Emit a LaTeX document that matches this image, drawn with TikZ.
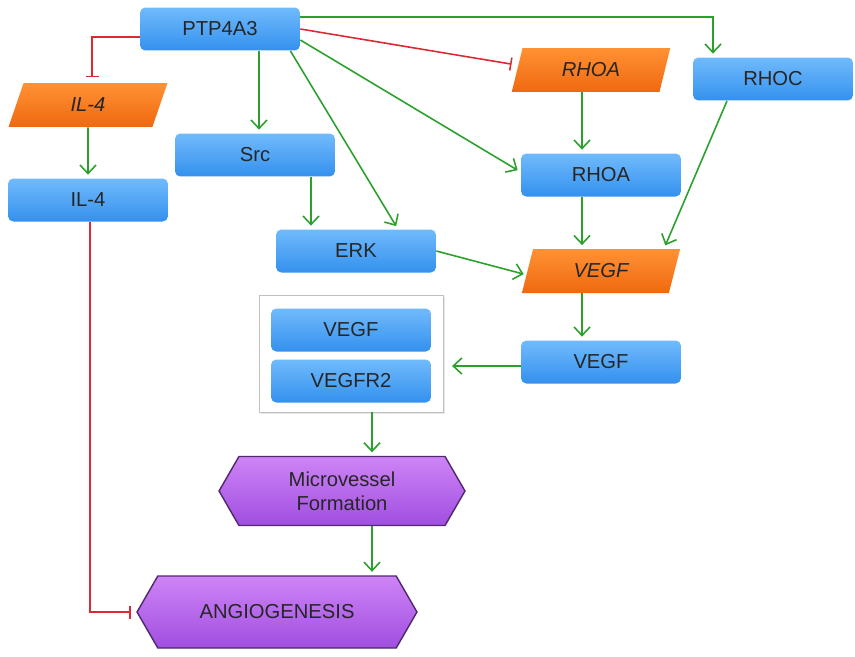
\documentclass[tikz,border=0pt]{standalone}
\usepackage{fontspec}
\setmainfont{Liberation Sans}
\usepackage{tikz}
\usetikzlibrary{positioning, arrows.meta, shapes.geometric, shapes.symbols, fit, shadows}
\usepackage{xcolor}
\definecolor{bluetop}{RGB}{112, 186, 252}
\definecolor{bluebot}{RGB}{52, 145, 238}
\definecolor{orangetop}{RGB}{255, 146, 52}
\definecolor{orangebot}{RGB}{240, 104, 16}
\definecolor{purptop}{RGB}{206, 132, 246}
\definecolor{purpbot}{RGB}{160, 78, 224}
\definecolor{purpline}{RGB}{80, 40, 110}
\definecolor{actgreen}{RGB}{44, 160, 44}
\definecolor{inhred}{RGB}{222, 40, 52}
\definecolor{panelgray}{RGB}{192, 192, 192}

\begin{document}
\begin{tikzpicture}[x=0.02cm, y=-0.02cm,
      font=\fontsize{11.5}{13.5}\selectfont,
      block/.style={rectangle, top color=bluetop, bottom color=bluebot, draw=none, rounded corners=3pt, minimum width=3.2cm, minimum height=0.86cm, text=black!85},
      blockm/.style={trapezium, trapezium left angle=78, trapezium right angle=102, trapezium stretches=true, top color=orangetop, bottom color=orangebot, draw=none, minimum width=3.18cm, minimum height=0.88cm, font=\fontsize{11.5}{13.5}\selectfont\itshape, text=black!85},
      pheno/.style={signal, signal to=west and east, signal pointer angle=120, top color=purptop, bottom color=purpbot, draw=purpline, thick, text=black!85, align=center},
      panel/.style={rectangle, draw=panelgray, fill=white, drop shadow={opacity=0.2, shadow xshift=1pt, shadow yshift=-1pt}, inner sep=0pt},
      act/.style={draw=actgreen, line width=0.9pt, -{Straight Barb[length=1.7mm, width=3.2mm]}, shorten >=2pt},
      inhib/.style={draw=inhred, line width=0.9pt, -{Bar[width=2.6mm]}, shorten >=3pt}
   ]
      \useasboundingbox (0,0) rectangle (855,656);

      % Top row
      \node (ptp)  [block] at (220,29)  {PTP4A3};
      \node (il4m) [blockm] at (88,105) {IL-4};
      \node (rhoam)[blockm] at (591,70) {RHOA};
      \node (rhoc) [block] at (773,79)  {RHOC};

      % Middle part
      \node (il4)  [block] at (88,200)  {IL-4};
      \node (src)  [block] at (255,155) {Src};
      \node (rhoa) [block] at (601,175) {RHOA};
      \node (erk)  [block] at (356,251) {ERK};
      \node (vegfm)[blockm] at (601,271) {VEGF};
      \node (vegf) [block] at (601,362) {VEGF};

      % Complex (drawn below its members)
      \coordinate (cbl) at (259,412);
      \coordinate (ctr) at (443,295);
      \node (cplx) [panel, fit=(cbl)(ctr)] {};
      \node (vegfin) [block] at (351,330) {VEGF};
      \node (vegfr)  [block] at (351,381) {VEGFR2};

      % Outcomes
      \node (micro) [pheno, minimum width=4.92cm, minimum height=1.38cm] at (342,491) {Microvessel\\Formation};
      \node (angio) [pheno, minimum width=5.6cm, minimum height=1.44cm] at (277,612) {ANGIOGENESIS};

      % From PTP4A3
      \draw[inhib] ([yshift=-0.16cm]ptp.west) -| ([xshift=0.08cm]il4m.north);
      \draw[act]   ([yshift=0.24cm]ptp.east) -| ([xshift=-1.2cm]rhoc.north);
      \draw[inhib] (ptp.east) -- ([yshift=0.1cm]rhoam.west);
      \draw[act]   ([yshift=-0.22cm]ptp.east) -- ([yshift=0.06cm]rhoa.west);
      \draw[act]   ([xshift=-0.2cm]ptp.south east) -- ([xshift=0.84cm]erk.north);
      \draw[act]   ([xshift=0.78cm]ptp.south) -- ([xshift=0.78cm]ptp.south |- src.north);

      % IL-4 branch
      \draw[act]   (il4m.south) -- (il4.north);
      \draw[inhib] ([xshift=0.04cm]il4.south) |- (angio.west);

      % Src / ERK branch
      \draw[act]   ([xshift=1.12cm]src.south) -- ([xshift=1.12cm]src.south |- erk.north);
      \draw[act]   (erk.east) -- ([yshift=-0.08cm]vegfm.west);

      % RHOA / RHOC branch
      \draw[act]   ([xshift=-0.38cm]rhoa.north |- rhoam.south) -- ([xshift=-0.38cm]rhoa.north);
      \draw[act]   ([xshift=-0.38cm]rhoa.south) -- ([xshift=-0.38cm]rhoa.south |- vegfm.north);
      \draw[act]   ([xshift=-0.92cm]rhoc.south) -- ([xshift=1.26cm]vegfm.north);

      % VEGF to receptor and outcomes
      \draw[act]   ([xshift=-0.38cm]vegf.north |- vegfm.south) -- ([xshift=-0.38cm]vegf.north);
      \draw[act,shorten >=5pt] ([yshift=-0.08cm]vegf.west) -- ([yshift=-0.08cm]vegf.west -| cplx.east);
      \draw[act]   ([xshift=0.42cm]cplx.south) -- ([xshift=0.42cm]cplx.south |- micro.north);
      \draw[act]   ([xshift=0.42cm]cplx.south |- micro.south) -- ([xshift=0.42cm]cplx.south |- angio.north);
   \end{tikzpicture}
\end{document}
